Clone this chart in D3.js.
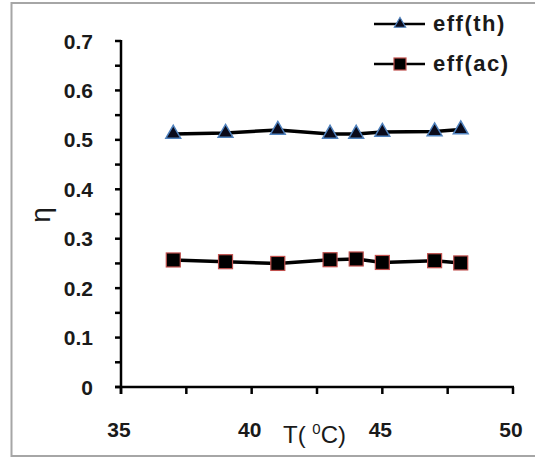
<!DOCTYPE html>
<html>
<head>
<meta charset="utf-8">
<script src="https://cdn.jsdelivr.net/npm/d3@7"></script>
<style>
  body { margin: 0; background: #fff; }
  svg text { font-family: "Liberation Sans", Arial, sans-serif; font-weight: bold; fill: #1a1a1a; }
</style>
</head>
<body>
<svg id="chart" width="535" height="459"></svg>
<script>
// data
let temps = [37, 39, 41, 43, 44, 45, 47, 48];
let effTh = [0.512, 0.514, 0.520, 0.512, 0.512, 0.516, 0.517, 0.521];
let effAc = [0.257, 0.2535, 0.250, 0.2575, 0.259, 0.252, 0.2555, 0.251];
let xTicks = [35, 40, 45, 50];
let yTicks = [0, 0.1, 0.2, 0.3, 0.4, 0.5, 0.6, 0.7];
let seriesNames = ['eff(th)', 'eff(ac)'];

let svg = d3.select('#chart');

// outer frame
svg.append('rect')
    .attr('x', 11.5).attr('y', 3)
    .attr('width', 540).attr('height', 453)
    .attr('fill', 'none')
    .attr('stroke', '#a6a6a6')
    .attr('stroke-width', 2);

let x = d3.scaleLinear().domain([35, 50]).range([121, 513]);
let y = d3.scaleLinear().domain([0, 0.7]).range([387, 41]);

// y axis + ticks every 0.05
let yMinor = d3.range(0, 0.7001, 0.05);
svg.append('g').selectAll('line')
    .data(yMinor).enter().append('line')
    .attr('x1', x(35) - 6).attr('x2', x(35))
    .attr('y1', d => y(d)).attr('y2', d => y(d))
    .attr('stroke', '#000').attr('stroke-width', 2.5);
svg.append('line')
    .attr('x1', x(35)).attr('x2', x(35))
    .attr('y1', y(0.7) - 1).attr('y2', y(0) + 7)
    .attr('stroke', '#000').attr('stroke-width', 2.5);

// x axis + ticks every 2.5
let xMinor = d3.range(35, 50.001, 2.5);
svg.append('g').selectAll('line')
    .data(xMinor).enter().append('line')
    .attr('x1', d => x(d)).attr('x2', d => x(d))
    .attr('y1', y(0)).attr('y2', y(0) + 7)
    .attr('stroke', '#000').attr('stroke-width', 2.5);
svg.append('line')
    .attr('x1', x(35) - 6).attr('x2', x(50) + 1)
    .attr('y1', y(0)).attr('y2', y(0))
    .attr('stroke', '#000').attr('stroke-width', 2.5);

// tick labels
svg.append('g').selectAll('text')
    .data(yTicks).enter().append('text')
    .attr('x', 93).attr('y', d => y(d) + 7.5)
    .attr('text-anchor', 'end')
    .style('font-size', '21px')
    .text(d => d === 0 ? '0' : d.toFixed(1));

svg.append('g').selectAll('text')
    .data(xTicks).enter().append('text')
    .attr('x', d => x(d) - 2).attr('y', 437)
    .attr('text-anchor', 'middle')
    .style('font-size', '21px')
    .text(d => d);

// axis titles
let xt = svg.append('text')
    .attr('x', 283).attr('y', 443)
    .style('font-size', '24px').style('font-weight', 'normal');
xt.append('tspan').text('T( ');
xt.append('tspan').attr('dy', -9).style('font-size', '15px').text('0');
xt.append('tspan').attr('dy', 9).text('C)');

svg.append('text')
    .attr('transform', 'translate(50,215) rotate(-90)')
    .attr('text-anchor', 'middle')
    .style('font-size', '28px').style('font-weight', 'normal')
    .text('η');

// series
let line = d3.line().x(d => x(d[0])).y(d => y(d[1]));
let thData = temps.map((t, i) => [t, effTh[i]]);
let acData = temps.map((t, i) => [t, effAc[i]]);

svg.append('path').datum(thData).attr('d', line)
    .attr('fill', 'none').attr('stroke', '#000').attr('stroke-width', 3.5);
svg.append('path').datum(acData).attr('d', line)
    .attr('fill', 'none').attr('stroke', '#000').attr('stroke-width', 3.5);

let tri = d3.symbol().type(d3.symbolTriangle).size(95);
svg.append('g').selectAll('path')
    .data(thData).enter().append('path')
    .attr('d', tri)
    .attr('transform', d => `translate(${x(d[0])},${y(d[1])})`)
    .attr('fill', '#0a0a1a').attr('stroke', '#4f81bd').attr('stroke-width', 1.5);

svg.append('g').selectAll('rect')
    .data(acData).enter().append('rect')
    .attr('x', d => x(d[0]) - 7).attr('y', d => y(d[1]) - 7)
    .attr('width', 14).attr('height', 14)
    .attr('fill', '#000').attr('stroke', '#c0504d').attr('stroke-width', 1.2);

// legend
let legendY = [24, 64];
seriesNames.forEach((name, i) => {
    let ly = legendY[i];
    svg.append('line')
        .attr('x1', 374).attr('x2', 425).attr('y1', ly).attr('y2', ly)
        .attr('stroke', '#000').attr('stroke-width', 2.5);
    if (i === 0) {
        svg.append('path').attr('d', d3.symbol().type(d3.symbolTriangle).size(55))
            .attr('transform', `translate(400,${ly})`)
            .attr('fill', '#0a0a1a').attr('stroke', '#4f81bd').attr('stroke-width', 1.2);
    } else {
        svg.append('rect')
            .attr('x', 394).attr('y', ly - 6).attr('width', 12).attr('height', 12)
            .attr('fill', '#000').attr('stroke', '#c0504d').attr('stroke-width', 1.2);
    }
    svg.append('text')
        .attr('x', 433).attr('y', ly + 7)
        .style('font-size', '22px').style('letter-spacing', '1.5px')
        .text(name);
});
</script>
</body>
</html>
